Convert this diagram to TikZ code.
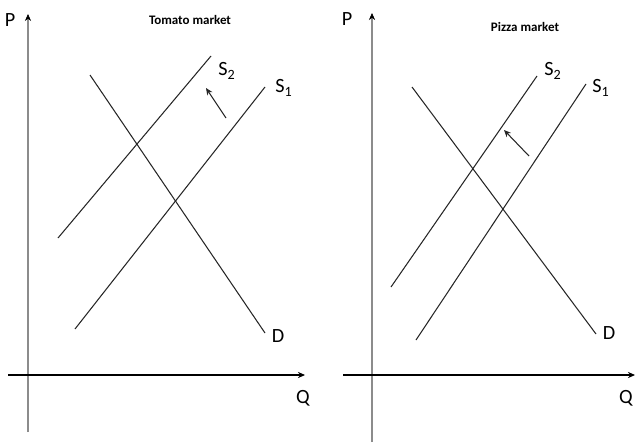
\documentclass[tikz,border=0pt]{standalone}
\usepackage{fontspec}
\setmainfont{Carlito}
\usetikzlibrary{arrows.meta}

\tikzset{
  yaxis/.style={draw=black!45, line width=1.3pt, -{Stealth[length=4pt,width=3.5pt,color=black,line width=0.4pt]}},
  xaxis/.style={draw=black, line width=0.7pt, -{Stealth[length=4pt,width=3.5pt]}},
  curve/.style={draw=black!85, line width=0.6pt},
  shiftarrow/.style={draw=black!85, line width=0.6pt, -{Stealth[length=4pt,width=3.5pt]}},
  lbl/.style={font=\fontsize{11.5}{13}\selectfont, inner sep=0pt},
  ttl/.style={font=\fontsize{7.4}{9}\selectfont\bfseries, inner sep=0pt}
}

\begin{document}
\begin{tikzpicture}[x=0.02cm, y=-0.02cm]
  \useasboundingbox (0,0) rectangle (635,443);

  % Tomato market (left)
  \coordinate (lyb) at (28,432);
  \coordinate (lyt) at (28,14);
  \coordinate (lxl) at (8,375);
  \coordinate (lxr) at (305,375);
  \draw[yaxis] (lyb) -- (lyt);
  \draw[xaxis] (lxl) -- (lxr);
  \node[lbl] (lP) at (10,20) {P};
  \node[lbl] (lQ) at (303,398) {Q};
  \node[ttl] (ltitle) at (190,20) {Tomato market};

  \coordinate (lDa) at (90,75);
  \coordinate (lDb) at (265,333);
  \coordinate (lS2a) at (58,238);
  \coordinate (lS2b) at (211,56);
  \coordinate (lS1a) at (75,329);
  \coordinate (lS1b) at (265,87);
  \draw[curve] (lDa) -- (lDb);
  \draw[curve] (lS2a) -- (lS2b);
  \draw[curve] (lS1a) -- (lS1b);
  \node[lbl] (lD) at (278,336) {D};
  \node[lbl] (lS2) at (227,71) {S\textsubscript{2}};
  \node[lbl] (lS1) at (284,88) {S\textsubscript{1}};

  % supply shift
  \coordinate (lsa) at (226,118);
  \coordinate (lsb) at (206,88);
  \draw[shiftarrow] (lsa) -- (lsb);

  % Pizza market (right)
  \coordinate (ryb) at (372,442);
  \coordinate (ryt) at (372,13);
  \coordinate (rxl) at (343,375);
  \coordinate (rxr) at (635,375);
  \draw[yaxis] (ryb) -- (ryt);
  \draw[xaxis] (rxl) -- (rxr);
  \node[lbl] (rP) at (347,19) {P};
  \node[lbl] (rQ) at (626,398) {Q};
  \node[ttl] (rtitle) at (525,27) {Pizza market};

  \coordinate (rDa) at (412,87);
  \coordinate (rDb) at (596,334);
  \coordinate (rS2a) at (391,287);
  \coordinate (rS2b) at (537,76);
  \coordinate (rS1a) at (416,340);
  \coordinate (rS1b) at (586,84);
  \draw[curve] (rDa) -- (rDb);
  \draw[curve] (rS2a) -- (rS2b);
  \draw[curve] (rS1a) -- (rS1b);
  \node[lbl] (rD) at (609,333) {D};
  \node[lbl] (rS2) at (553,71) {S\textsubscript{2}};
  \node[lbl] (rS1) at (601,88) {S\textsubscript{1}};

  % supply shift
  \coordinate (rsa) at (529,156);
  \coordinate (rsb) at (504,130);
  \draw[shiftarrow] (rsa) -- (rsb);
\end{tikzpicture}
\end{document}
